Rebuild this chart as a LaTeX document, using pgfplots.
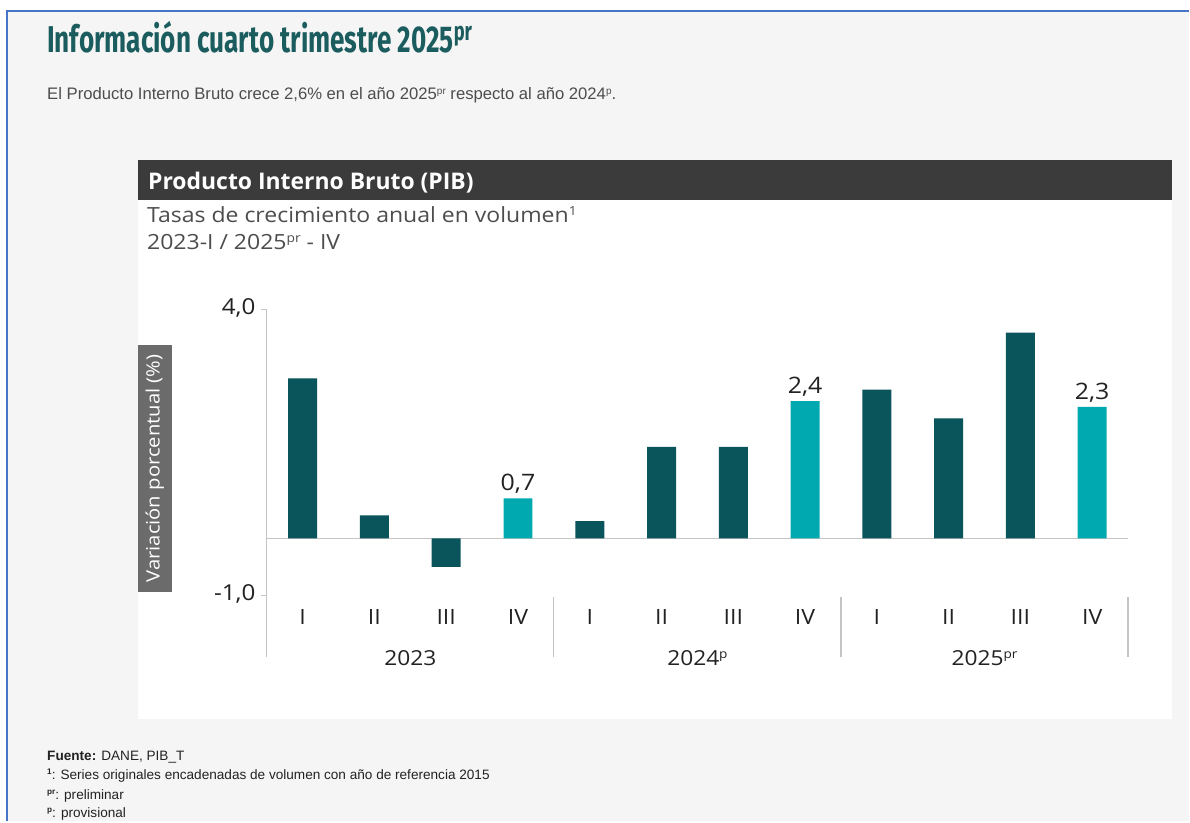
\documentclass[border=0pt]{standalone}
\usepackage{fontspec}
\setmainfont[FakeStretch=1.1]{Open Sans}
\newfontfamily\headfont{Open Sans}
\newfontfamily\titlefont[FakeStretch=0.70]{Fira Sans}
\newfontfamily\notefont{Liberation Sans}
\usepackage{pgfplots}
\pgfplotsset{compat=1.18}

\definecolor{bardark}{HTML}{0A545C}
\definecolor{barlight}{HTML}{00A9B0}
\definecolor{titleteal}{HTML}{1B5C5E}
\definecolor{headbar}{HTML}{3B3B3B}
\definecolor{pagebg}{HTML}{F5F5F5}
\definecolor{frameblue}{HTML}{4674C6}
\definecolor{ylabbox}{HTML}{6B6B6B}
\definecolor{axisgray}{HTML}{C4C4C4}
\definecolor{subtxt}{HTML}{4D4D4D}
\definecolor{lbltxt}{HTML}{222222}

% small raised marks (pr, p, 1)
\newcommand{\sps}[1]{\raisebox{0.62ex}{\scalebox{0.6}{#1}}}

\begin{document}
\begin{tikzpicture}[x=0.75pt,y=0.75pt]
% page and card
\fill[white] (0,0) rectangle (1190,822);
\fill[pagebg] (7,0) rectangle (1190,811);
\draw[frameblue,line width=1.5pt] (7,0) -- (7,811) -- (1190,811);
\fill[white] (138,102) rectangle (1173,662);
\fill[headbar] (138,622) rectangle (1173,662);
\coordinate (axpos) at (267,226);

% texts above the chart
\node[anchor=base west,inner sep=0,text=titleteal,font=\titlefont\fontsize{28}{32}\selectfont\bfseries]
  at (47,769) {Información cuarto trimestre 2025\textsuperscript{pr}};
\node[anchor=base west,inner sep=0,text=subtxt,font=\notefont\fontsize{12.5}{14}\selectfont]
  at (47,722) {El Producto Interno Bruto crece 2,6\% en el año 2025\sps{pr} respecto al año 2024\sps{p}.};
\node[anchor=base west,inner sep=0,text=white,font=\headfont\fontsize{17.2}{20}\selectfont\bfseries]
  at (148,632) {Producto Interno Bruto (PIB)};
\node[anchor=base west,inner sep=0,text=subtxt,font=\fontsize{15.7}{18}\selectfont]
  at (147,599) {Tasas de crecimiento anual en volumen\sps{1}};
\node[anchor=base west,inner sep=0,text=subtxt,font=\fontsize{15.7}{18}\selectfont]
  at (147,572) {2023-I / 2025\sps{pr} - IV};
\node[fill=ylabbox,text=white,rotate=90,inner sep=0,minimum width=186pt,minimum height=25.5pt,
  font=\fontsize{13.8}{16}\selectfont] at (155,353) {Variación porcentual (\%)};

\begin{axis}[
  at={(axpos)}, anchor=south west,
  scale only axis, width=646.5pt, height=214.5pt,
  xmin=-0.5, xmax=11.5, ymin=-1, ymax=4,
  clip=false,
  axis line style={draw=none},
  ybar, bar width=21.75pt, bar shift=0pt,
  xtick={0,...,11},
  xticklabels={I,II,III,IV,I,II,III,IV,I,II,III,IV},
  ytick={-1,4},
  yticklabels={{-1,0},{4,0}},
  ytick pos=left,
  tick align=outside, major tick length=4pt,
  xtick style={draw=none},
  ytick style={draw=axisgray,line width=0.6pt},
  tick label style={font=\fontsize{15.8}{18}\selectfont,text=lbltxt},
  yticklabel style={font=\fontsize{16.5}{18}\selectfont,xshift=-1pt,yshift=1pt},
  xticklabel style={yshift=-3pt},
]
\draw[axisgray,line width=0.9pt] (axis cs:-0.5,0) -- (axis cs:11.5,0);
\draw[axisgray,line width=0.9pt] (axis cs:-0.5,4) -- (axis cs:-0.5,-2.08);
\draw[axisgray,line width=0.9pt] (axis cs:3.5,-1.03) -- (axis cs:3.5,-2.08);
\draw[axisgray,line width=0.9pt] (axis cs:7.5,-1.03) -- (axis cs:7.5,-2.08);
\draw[axisgray,line width=0.9pt] (axis cs:11.5,-1.03) -- (axis cs:11.5,-2.08);

\addplot[fill=bardark,draw=none] coordinates {
  (0,2.8) (1,0.4) (2,-0.5) (4,0.3) (5,1.6) (6,1.6) (8,2.6) (9,2.1) (10,3.6)
};
\addplot[fill=barlight,draw=none,
  nodes near coords,
  nodes near coords style={font=\fontsize{17}{19}\selectfont,text=lbltxt,
    /pgf/number format/.cd,use comma,fixed,fixed zerofill,precision=1,assume math mode=true}]
  coordinates {(3,0.7) (7,2.4) (11,2.3)};

\node[font=\fontsize{15.5}{18}\selectfont,text=lbltxt] at (axis cs:1.5,-2.1) {2023};
\node[font=\fontsize{15.5}{18}\selectfont,text=lbltxt] at (axis cs:5.5,-2.1) {2024\sps{p}};
\node[font=\fontsize{15.5}{18}\selectfont,text=lbltxt] at (axis cs:9.5,-2.1) {2025\sps{pr}};
\end{axis}

% footnotes
\node[anchor=base west,inner sep=0,text=lbltxt,font=\notefont\fontsize{10.2}{12}\selectfont]
  at (47,61) {\textbf{Fuente:} DANE, PIB\_T};
\node[anchor=base west,inner sep=0,text=lbltxt,font=\notefont\fontsize{10.2}{12}\selectfont]
  at (47,42) {\textbf{\sps{1}}: Series originales encadenadas de volumen con año de referencia 2015};
\node[anchor=base west,inner sep=0,text=lbltxt,font=\notefont\fontsize{10.2}{12}\selectfont]
  at (47,22) {\textbf{\sps{pr}}: preliminar};
\node[anchor=base west,inner sep=0,text=lbltxt,font=\notefont\fontsize{10.2}{12}\selectfont]
  at (47,4) {\textbf{\sps{p}}: provisional};
\end{tikzpicture}
\end{document}
